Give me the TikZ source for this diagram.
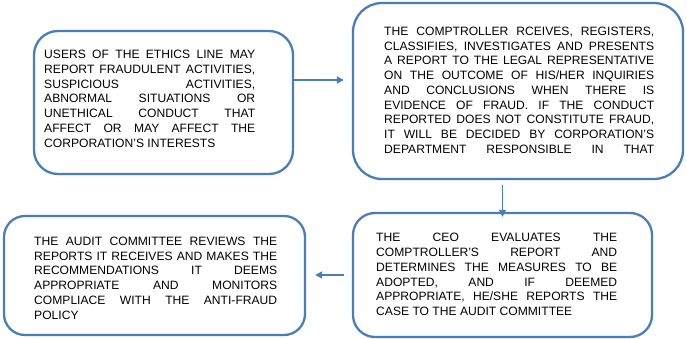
\documentclass[tikz,border=0pt]{standalone}
\usepackage{fontspec}
\setmainfont{Liberation Sans}
\usetikzlibrary{arrows.meta}
\definecolor{frameblue}{RGB}{74,126,187}
\begin{document}
\begin{tikzpicture}[x=1pt,y=-1pt,
  card/.style={draw=frameblue,line width=2.3pt,inner sep=0pt,fill=white},
  body/.style={anchor=north west,inner sep=0pt,align=justify,
    font=\fontsize{12.1}{14.75}\selectfont},
  flow/.style={draw=frameblue,line width=1.5pt,-{Triangle[length=7pt,width=7pt]}}]
\useasboundingbox[fill=white] (0,0) rectangle (687,339);

% the four rounded frames
\node[card,rounded corners=24pt,minimum width=259pt,minimum height=143pt] (b1) at (163.5,102.5) {};
\node[card,rounded corners=29pt,minimum width=330pt,minimum height=176pt] (b2) at (518,91) {};
\node[card,rounded corners=22pt,minimum width=299pt,minimum height=124pt] (b3) at (502.5,275) {};
\node[card,rounded corners=21pt,minimum width=301pt,minimum height=119pt] (b4) at (154.5,275.5) {};

% texts
\node[body,text width=211pt] (t1) at (44,50) {USERS OF THE ETHICS LINE MAY\linebreak
REPORT FRAUDULENT ACTIVITIES,\linebreak
SUSPICIOUS ACTIVITIES,\linebreak
ABNORMAL SITUATIONS OR\linebreak
UNETHICAL CONDUCT THAT\linebreak
AFFECT OR MAY AFFECT THE\linebreak
CORPORATION’S INTERESTS};

\node[body,text width=270pt] (t2) at (384,26.7) {{\parfillskip=0pt
THE COMPTROLLER RCEIVES, REGISTERS,\linebreak
CLASSIFIES, INVESTIGATES AND PRESENTS\linebreak
A REPORT TO THE LEGAL REPRESENTATIVE\linebreak
ON THE OUTCOME OF HIS/HER INQUIRIES\linebreak
AND CONCLUSIONS WHEN THERE IS\linebreak
EVIDENCE OF FRAUD. IF THE CONDUCT\linebreak
REPORTED DOES NOT CONSTITUTE FRAUD,\linebreak
IT WILL BE DECIDED BY CORPORATION’S\linebreak
DEPARTMENT RESPONSIBLE IN THAT\par}};

\node[body,text width=241pt] (t3) at (376,233.3) {THE CEO EVALUATES THE\linebreak
COMPTROLLER’S REPORT AND\linebreak
DETERMINES THE MEASURES TO BE\linebreak
ADOPTED, AND IF DEEMED\linebreak
APPROPRIATE, HE/SHE REPORTS THE\linebreak
CASE TO THE AUDIT COMMITTEE};

\node[body,text width=243pt] (t4) at (34,236.7) {THE AUDIT COMMITTEE REVIEWS THE\linebreak
REPORTS IT RECEIVES AND MAKES THE\linebreak
RECOMMENDATIONS IT DEEMS\linebreak
APPROPRIATE AND MONITORS\linebreak
COMPLIACE WITH THE ANTI-FRAUD\linebreak
POLICY};

% connectors
\coordinate (lvl) at (0,80);
\draw[flow,shorten >=8pt] (b1.east |- lvl) -- (b2.west |- lvl);
\draw[flow,shorten <=5pt,shorten >=-5pt] (b2.south -| b3.north) -- (b3.north);
\draw[flow,shorten <=8pt,shorten >=9pt] (b3.west) -- (b4.east |- b3.west);
\end{tikzpicture}
\end{document}
